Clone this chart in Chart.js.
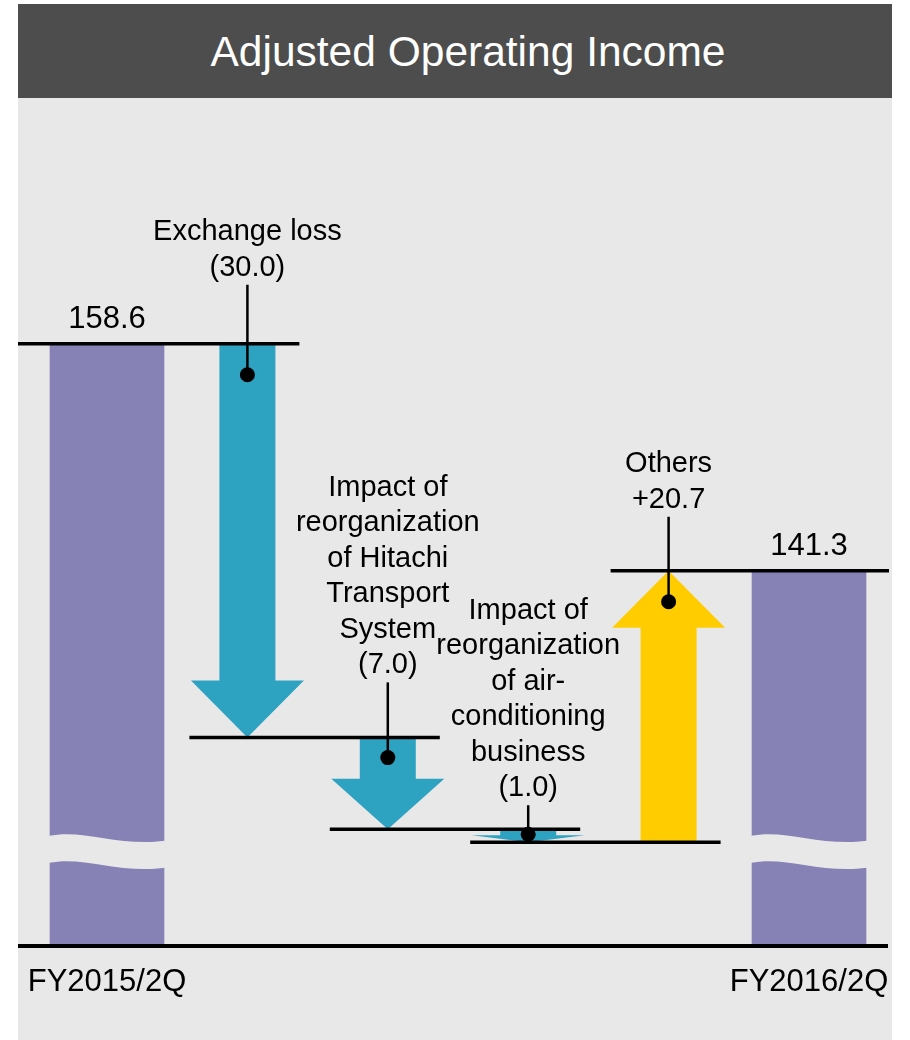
<!DOCTYPE html>
<html>
<head>
<meta charset="utf-8">
<title>Adjusted Operating Income</title>
<script src="https://cdn.jsdelivr.net/npm/chart.js@4/dist/chart.umd.min.js"></script>
<style>
  body { margin: 0; background: #fff; }
  #panel { position: absolute; left: 18px; top: 4px; width: 874px; height: 1036px; background: #e8e8e8; }
  #title {
    height: 94px; line-height: 96px; background: #4d4d4d; color: #fff; padding-left: 26px;
    font-family: "Liberation Sans", Arial, sans-serif; font-size: 42.5px; text-align: center;
  }
  #chart { position: absolute; left: 0; top: 94px; }
</style>
</head>
<body>
<div id="panel">
  <div id="title">Adjusted Operating Income</div>
  <canvas id="chart" width="874" height="942"></canvas>
</div>
<script>
// data
const tickLabels = ['FY2015/2Q', '', '', '', '', 'FY2016/2Q'];
const startValue = 158.6;
const endValue = 141.3;
const changeValues = [-30.0, -7.0, -1.0, 20.7];
const changeLabels = [
  ['Exchange loss'],
  ['Impact of', 'reorganization', 'of Hitachi', 'Transport', 'System'],
  ['Impact of', 'reorganization', 'of air-', 'conditioning', 'business'],
  ['Others']
];

// axis range (bars are cut, axis does not start at zero)
const axisFloor = 112.7;
const axisCeiling = 177.33;
const breakValue = 119.8;

const FONT = '"Liberation Sans", Arial, sans-serif';
const BG = '#e8e8e8';
const PURPLE = '#8782b5';
const TEAL = '#2ea3c1';
const YELLOW = '#ffcc00';
const labelGaps = [76, 72, 41, 71];

function fmtChange(v) {
  return v < 0 ? '(' + Math.abs(v).toFixed(1) + ')' : '+' + v.toFixed(1);
}

const waterfallPlugin = {
  id: 'waterfall',
  afterDatasetsDraw(chart) {
    const { ctx, scales: { x, y }, chartArea } = chart;
    const levels = [startValue];
    changeValues.forEach(v => levels.push(+(levels[levels.length - 1] + v).toFixed(1)));

    ctx.save();

    // wavy break on the two total bars
    const meta = chart.getDatasetMeta(0);
    [meta.data[0], meta.data[tickLabels.length - 1]].forEach(bar => {
      const l = bar.x - bar.width / 2 - 1, r = bar.x + bar.width / 2 + 1, w = r - l;
      const yb = y.getPixelForValue(breakValue);
      const top = yb - 17, bot = yb + 10;
      ctx.fillStyle = BG;
      ctx.beginPath();
      ctx.moveTo(l, top);
      ctx.bezierCurveTo(l + w * 0.3, top - 7, l + w * 0.6, top + 11, r, top + 5);
      ctx.lineTo(r, bot + 5);
      ctx.bezierCurveTo(l + w * 0.6, bot + 11, l + w * 0.3, bot - 7, l, bot);
      ctx.closePath();
      ctx.fill();
    });

    // arrows
    const arrows = changeValues.map((v, i) => {
      const cx = x.getPixelForValue(i + 1);
      const yFrom = y.getPixelForValue(levels[i]);
      const yTo = y.getPixelForValue(levels[i + 1]);
      const len = Math.abs(yTo - yFrom);
      const dir = Math.sign(yTo - yFrom);
      const head = Math.min(57, len * 0.55);
      const neck = yTo - dir * head;
      ctx.fillStyle = v < 0 ? TEAL : YELLOW;
      ctx.beginPath();
      ctx.moveTo(cx - 28, yFrom);
      ctx.lineTo(cx + 28, yFrom);
      ctx.lineTo(cx + 28, neck);
      ctx.lineTo(cx + 56.5, neck);
      ctx.lineTo(cx, yTo);
      ctx.lineTo(cx - 56.5, neck);
      ctx.lineTo(cx - 28, neck);
      ctx.closePath();
      ctx.fill();
      const topY = Math.min(yFrom, yTo);
      return { cx, topY, dotY: topY + Math.min(31, Math.max(5, len * 0.22)) };
    });

    // level lines
    ctx.strokeStyle = '#000';
    ctx.lineWidth = 3.5;
    for (let i = 0; i < levels.length; i++) {
      const yy = y.getPixelForValue(levels[i]);
      const x0 = i === 0 ? 0 : x.getPixelForValue(i) - 58;
      const x1 = i === levels.length - 1 ? chart.width - 3 : x.getPixelForValue(i + 1) + 52;
      ctx.beginPath();
      ctx.moveTo(x0, yy);
      ctx.lineTo(x1, yy);
      ctx.stroke();
    }
    // base line
    ctx.lineWidth = 4;
    ctx.beginPath();
    ctx.moveTo(0, chartArea.bottom);
    ctx.lineTo(chart.width - 4, chartArea.bottom);
    ctx.stroke();

    // labels, leaders and dots
    ctx.fillStyle = '#000';
    ctx.textAlign = 'center';
    ctx.textBaseline = 'middle';
    ctx.font = '29px ' + FONT;
    arrows.forEach((a, i) => {
      const lines = changeLabels[i].concat([fmtChange(changeValues[i])]);
      const bottomY = a.topY - labelGaps[i];
      lines.forEach((t, k) => {
        ctx.fillText(t, a.cx, bottomY - (lines.length - 1 - k) * 35.5);
      });
      ctx.lineWidth = 2.5;
      ctx.beginPath();
      ctx.moveTo(a.cx, bottomY + 17);
      ctx.lineTo(a.cx, a.dotY);
      ctx.stroke();
      ctx.beginPath();
      ctx.arc(a.cx, a.dotY, 7.5, 0, Math.PI * 2);
      ctx.fill();
    });

    // totals
    ctx.font = '31px ' + FONT;
    [[0, startValue], [tickLabels.length - 1, endValue]].forEach(([idx, v]) => {
      ctx.fillText(v.toFixed(1), x.getPixelForValue(idx), y.getPixelForValue(v) - 24);
    });

    ctx.restore();
  }
};

new Chart(document.getElementById('chart'), {
  type: 'bar',
  data: {
    labels: tickLabels,
    datasets: [{
      data: [[axisFloor, startValue], null, null, null, null, [axisFloor, endValue]],
      backgroundColor: PURPLE,
      borderWidth: 0,
      barThickness: 114
    }]
  },
  options: {
    responsive: false,
    animation: false,
    layout: { padding: { left: 18.8, right: 12.8, top: 0, bottom: 38.4 } },
    plugins: {
      legend: { display: false },
      tooltip: { enabled: false }
    },
    scales: {
      x: {
        offset: true,
        grid: { display: false, drawTicks: false },
        border: { display: false },
        ticks: { color: '#000', font: { family: FONT, size: 31 }, padding: 18, maxRotation: 0, autoSkip: false },
        afterFit(scale) {
          // keep the plot area where the picture has it
          scale.height = 55.6;
          scale.paddingLeft = 0;
          scale.paddingRight = 0;
        }
      },
      y: { display: false, min: axisFloor, max: axisCeiling }
    }
  },
  plugins: [waterfallPlugin]
});
</script>
</body>
</html>
